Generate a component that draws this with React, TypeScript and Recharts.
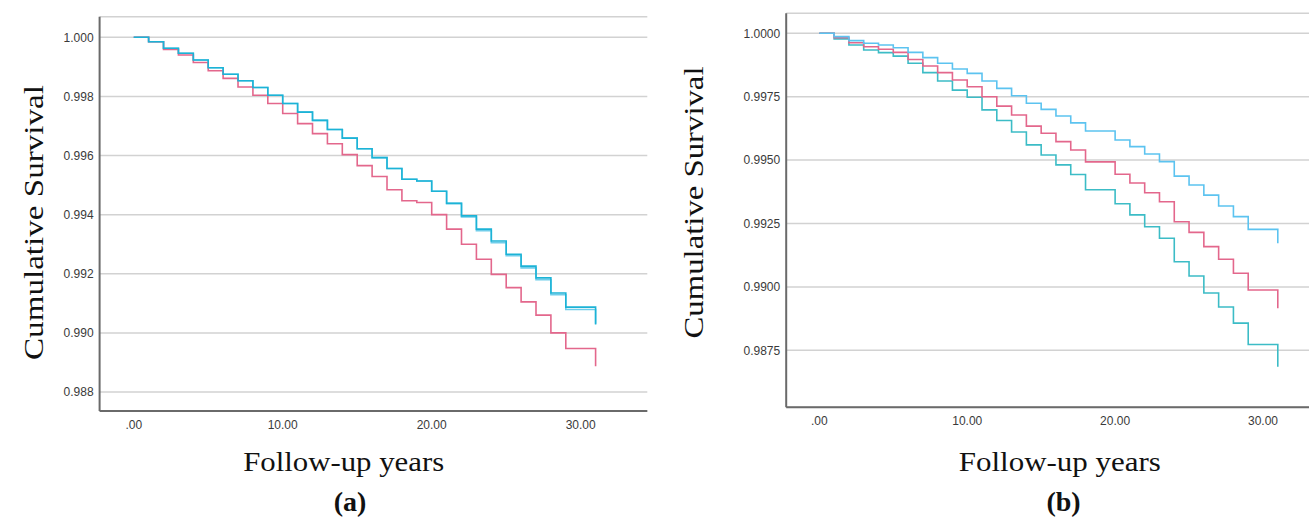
import React from "react";
import { LineChart, Line, XAxis, YAxis, CartesianGrid } from "recharts";

const years = [0, 1, 2, 3, 4, 5, 6, 7, 8, 9, 10, 11, 12, 13, 14, 15, 16, 17, 18, 19, 20, 21, 22, 23, 24, 25, 26, 27, 28, 29, 30, 31];

// Panel (a)
const aCyan = [1.0, 0.99985, 0.99963, 0.99946, 0.99923, 0.99897, 0.99875, 0.99853, 0.9983, 0.99804, 0.99776, 0.99747, 0.99719, 0.99688, 0.99659, 0.99623, 0.99593, 0.99556, 0.9952, 0.99514, 0.99479, 0.99438, 0.99396, 0.99351, 0.99311, 0.99266, 0.99226, 0.99186, 0.99135, 0.99087, 0.99087, 0.99028];
const aLightBlue = [1.0, 0.99985, 0.99963, 0.99946, 0.99923, 0.99897, 0.99875, 0.99853, 0.9983, 0.99804, 0.99776, 0.99747, 0.99719, 0.99688, 0.99659, 0.99623, 0.99593, 0.99556, 0.9952, 0.99514, 0.99479, 0.99438, 0.99392, 0.99346, 0.99305, 0.99261, 0.9922, 0.9918, 0.99129, 0.99079, 0.99079, 0.99031];
const aPink = [1.0, 0.99985, 0.99959, 0.9994, 0.99915, 0.99887, 0.99861, 0.99832, 0.99804, 0.99776, 0.99742, 0.99708, 0.99674, 0.9964, 0.99603, 0.99566, 0.99529, 0.99484, 0.99447, 0.99441, 0.994, 0.99351, 0.993, 0.99249, 0.99198, 0.99153, 0.99105, 0.9906, 0.99, 0.98947, 0.98947, 0.98887];

// Panel (b)
const bLightBlue = [1.0, 0.99987, 0.99971, 0.99961, 0.99954, 0.99943, 0.99925, 0.99904, 0.99882, 0.99859, 0.99842, 0.99812, 0.99783, 0.99754, 0.99724, 0.997, 0.99674, 0.99647, 0.99615, 0.99615, 0.99579, 0.99553, 0.99524, 0.99494, 0.99437, 0.99402, 0.99362, 0.99319, 0.99277, 0.99227, 0.99227, 0.99172];
const bPink = [1.0, 0.99983, 0.99963, 0.99947, 0.99937, 0.99925, 0.99897, 0.99871, 0.99845, 0.99816, 0.99789, 0.9975, 0.99713, 0.99678, 0.99634, 0.99606, 0.99573, 0.9954, 0.99493, 0.99493, 0.99444, 0.9941, 0.99371, 0.99336, 0.99257, 0.99215, 0.99159, 0.99109, 0.99054, 0.98988, 0.98988, 0.98916];
const bTeal = [1.0, 0.99978, 0.99954, 0.99934, 0.99924, 0.9991, 0.99882, 0.99845, 0.99812, 0.99776, 0.99748, 0.99698, 0.99656, 0.99611, 0.9956, 0.9952, 0.99481, 0.99443, 0.99383, 0.99383, 0.99328, 0.99284, 0.99237, 0.99192, 0.99099, 0.99043, 0.98976, 0.98921, 0.98857, 0.98773, 0.98773, 0.98685];

const xTicks = [0, 10, 20, 30];
const aYTicks = [0.988, 0.99, 0.992, 0.994, 0.996, 0.998, 1.0];
const bYTicks = [0.9875, 0.99, 0.9925, 0.995, 0.9975, 1.0];

const yLabel = "Cumulative Survival";
const xLabel = "Follow-up years";
const panelA = "(a)";
const panelB = "(b)";

const dataA = years.map((t, i) => ({ t, cyan: aCyan[i], light: aLightBlue[i], pink: aPink[i] }));
const dataB = years.map((t, i) => ({ t, light: bLightBlue[i], pink: bPink[i], teal: bTeal[i] }));

const xFmt = (v: number) => (v === 0 ? ".00" : v.toFixed(2));
const tickStyle = { fontFamily: "'Liberation Sans', Arial, sans-serif", fontSize: 12, fill: "#3a3a3a" };
const axisLine = { stroke: "#6a6a6a", strokeWidth: 2 };
const serif = "'Liberation Serif', 'Times New Roman', serif";

export default function App() {
  return (
    <div style={{ position: "absolute", left: 0, top: 0, width: 1309, height: 518, background: "#fff" }}>
      <div style={{ position: "absolute", left: 0, top: 0 }}>
        <LineChart width={660} height={518} data={dataA} margin={{ top: 16.7, right: 12.7, left: 0, bottom: 77 }}>
          <CartesianGrid horizontal vertical={false} stroke="#d2d2d2" strokeWidth={1.5} />
          <XAxis
            dataKey="t"
            type="number"
            domain={[-2.29, 34.47]}
            ticks={xTicks}
            tickFormatter={xFmt}
            allowDataOverflow
            tickLine={false}
            tickSize={6}
            tickMargin={3}
            axisLine={axisLine}
            tick={tickStyle}
            height={30}
            interval={0}
          />
          <YAxis
            type="number"
            domain={[0.987357, 1.000697]}
            ticks={aYTicks}
            tickFormatter={(v: number) => v.toFixed(3)}
            allowDataOverflow
            tickLine={false}
            tickSize={6}
            tickMargin={0}
            axisLine={axisLine}
            tick={tickStyle}
            width={99.6}
            interval={0}
          />
          <Line type="stepAfter" dataKey="light" stroke="#6fcdea" strokeWidth={1.6} dot={false} isAnimationActive={false} />
          <Line type="stepAfter" dataKey="pink" stroke="#e3678c" strokeWidth={1.6} dot={false} isAnimationActive={false} />
          <Line type="stepAfter" dataKey="cyan" stroke="#1cb3d6" strokeWidth={1.6} dot={false} isAnimationActive={false} />
        </LineChart>
      </div>
      <div style={{ position: "absolute", left: 660, top: 0 }}>
        <LineChart width={649} height={518} data={dataB} margin={{ top: 13.3, right: 0, left: 0, bottom: 80.7 }}>
          <CartesianGrid horizontal vertical={false} stroke="#d2d2d2" strokeWidth={1.5} />
          <XAxis
            dataKey="t"
            type="number"
            domain={[-2.24, 33.11]}
            ticks={xTicks}
            tickFormatter={xFmt}
            allowDataOverflow
            tickLine={false}
            tickSize={6}
            tickMargin={3}
            axisLine={axisLine}
            tick={tickStyle}
            height={30}
            interval={0}
          />
          <YAxis
            type="number"
            domain={[0.985252, 1.000789]}
            ticks={bYTicks}
            tickFormatter={(v: number) => v.toFixed(4)}
            allowDataOverflow
            tickLine={false}
            tickSize={6}
            tickMargin={0}
            axisLine={axisLine}
            tick={tickStyle}
            width={126.2}
            interval={0}
          />
          <Line type="stepAfter" dataKey="teal" stroke="#3cbcc6" strokeWidth={1.6} dot={false} isAnimationActive={false} />
          <Line type="stepAfter" dataKey="pink" stroke="#e3678c" strokeWidth={1.6} dot={false} isAnimationActive={false} />
          <Line type="stepAfter" dataKey="light" stroke="#5cc3f0" strokeWidth={1.6} dot={false} isAnimationActive={false} />
        </LineChart>
      </div>
      <svg width={1309} height={518} style={{ position: "absolute", left: 0, top: 0, pointerEvents: "none" }}>
        <text x={43} y={222.5} transform="rotate(-90 43 222.5)" textAnchor="middle" fontFamily={serif} fontSize={27} fill="#111" textLength={275} lengthAdjust="spacingAndGlyphs">{yLabel}</text>
        <text x={703} y={202.5} transform="rotate(-90 703 202.5)" textAnchor="middle" fontFamily={serif} fontSize={27} fill="#111" textLength={272} lengthAdjust="spacingAndGlyphs">{yLabel}</text>
        <text x={343.7} y={471} textAnchor="middle" fontFamily={serif} fontSize={27} fill="#111" textLength={201} lengthAdjust="spacingAndGlyphs">{xLabel}</text>
        <text x={1059.8} y={471} textAnchor="middle" fontFamily={serif} fontSize={27} fill="#111" textLength={202} lengthAdjust="spacingAndGlyphs">{xLabel}</text>
        <text x={350} y={511} textAnchor="middle" fontFamily={serif} fontSize={28} fontWeight="bold" fill="#111">{panelA}</text>
        <text x={1063.6} y={511} textAnchor="middle" fontFamily={serif} fontSize={28} fontWeight="bold" fill="#111">{panelB}</text>
      </svg>
    </div>
  );
}
